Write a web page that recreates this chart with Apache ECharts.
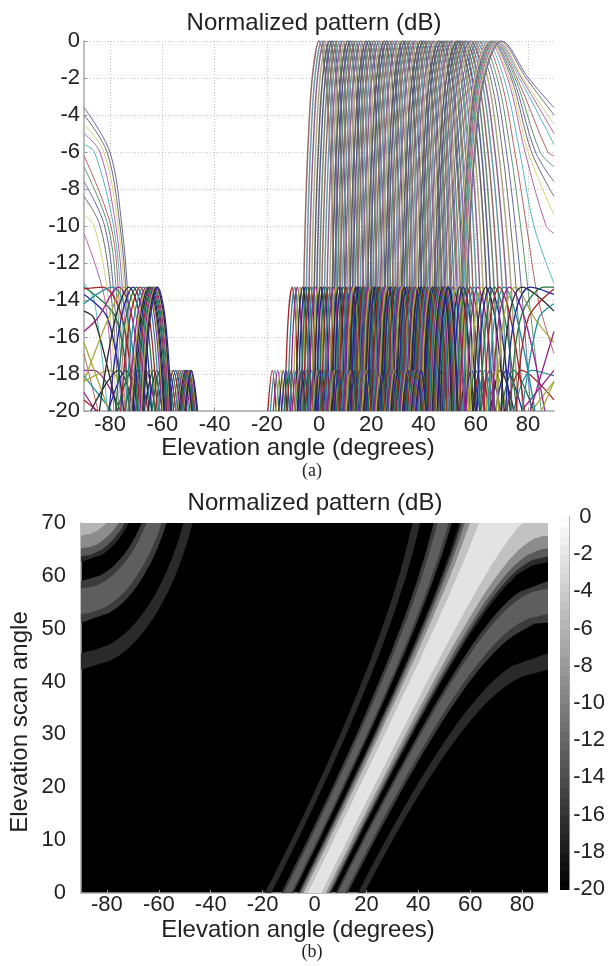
<!DOCTYPE html>
<html>
<head>
<meta charset="utf-8">
<style>
  html, body { margin: 0; padding: 0; background: #fff; }
  #chart { width: 608px; height: 966px; }
</style>
<script src="https://cdn.jsdelivr.net/npm/echarts@6/dist/echarts.min.js"></script>
</head>
<body>
<div id="chart"></div>
<script>
const _ = null

// Tick labels
const xTicks = [-80, -60, -40, -20, 0, 20, 40, 60, 80]

const scanAngles = [0, 1, 2, 3, 4, 5, 6, 7, 8, 9, 10, 11, 12, 13, 14, 15, 16, 17, 18, 19, 20, 21, 22, 23, 24, 25, 26, 27, 28, 29, 30, 31, 32, 33, 34, 35, 36, 37, 38, 39, 40, 41, 42, 43, 44, 45, 46, 47, 48, 49, 50, 51, 52, 53, 54, 55, 56, 57, 58, 59, 60, 61, 62, 63, 64, 65, 65.5, 66, 66.5, 67, 67.5, 68, 68.5, 69, 69.5, 70]

// dB level of each column of patternX: 2nd sidelobe, 1st sidelobe, main lobe, 1st sidelobe, 2nd sidelobe
const columnDb = [-20, -17.8, -20, -20, -15, -13.3, -15, -20, -20, -14, -10, -6, -2, 0, -2, -6, -10, -14, -20, -20, -15, -13.3, -15, -20, -20, -17.8, -20]

// Elevation angle where each scan curve passes the level of the column (null = past +90)
const patternX = [
  [-19.6, -17.9, -16.4, -13.1, -11.8, -10.3, -9, -8, -6.5, -5.9, -5.3, -4.3, -2.6, 0, 2.6, 4.3, 5.3, 5.9, 6.5, 8, 9, 10.3, 11.8, 13.1, 16.4, 17.9, 19.6],
  [-18.6, -16.9, -15.3, -12, -10.7, -9.3, -8, -7, -5.5, -4.9, -4.3, -3.3, -1.6, 1, 3.6, 5.3, 6.3, 6.9, 7.5, 9, 10, 11.3, 12.8, 14.1, 17.4, 18.9, 20.6],
  [-17.5, -15.8, -14.3, -11, -9.7, -8.3, -7, -6, -4.5, -3.9, -3.3, -2.3, -0.6, 2, 4.6, 6.3, 7.3, 8, 8.5, 10, 11, 12.3, 13.8, 15.1, 18.5, 20, 21.7],
  [-16.4, -14.7, -13.2, -10, -8.7, -7.3, -5.9, -5, -3.5, -2.9, -2.3, -1.3, 0.4, 3, 5.6, 7.3, 8.3, 9, 9.5, 11, 12, 13.3, 14.8, 16.1, 19.5, 21, 22.8],
  [-15.4, -13.7, -12.2, -9, -7.7, -6.3, -4.9, -4, -2.5, -1.9, -1.3, -0.3, 1.4, 4, 6.6, 8.3, 9.3, 10, 10.6, 12.1, 13, 14.4, 15.9, 17.2, 20.6, 22.2, 23.9],
  [-14.3, -12.7, -11.2, -8, -6.7, -5.3, -4, -3, -1.5, -0.9, -0.3, 0.7, 2.4, 5, 7.6, 9.3, 10.3, 11, 11.6, 13.1, 14, 15.4, 17, 18.2, 21.6, 23.2, 25],
  [-13.3, -11.7, -10.2, -7, -5.7, -4.3, -3, -2, -0.5, 0.1, 0.7, 1.7, 3.4, 6, 8.6, 10.4, 11.4, 12, 12.6, 14.1, 15.1, 16.5, 18, 19.3, 22.7, 24.3, 26.1],
  [-12.3, -10.7, -9.2, -6, -4.7, -3.3, -2, -1, 0.5, 1, 1.7, 2.7, 4.4, 7, 9.6, 11.4, 12.4, 13, 13.6, 15.1, 16.1, 17.5, 19, 20.3, 23.8, 25.4, 27.2],
  [-11.3, -9.7, -8.2, -5, -3.7, -2.3, -1, 0, 1.5, 2, 2.7, 3.7, 5.4, 8, 10.7, 12.4, 13.4, 14, 14.6, 16.2, 17.2, 18.5, 20, 21.4, 24.9, 26.5, 28.3],
  [-10.3, -8.7, -7.2, -4, -2.7, -1.3, 0, 1, 2.5, 3, 3.7, 4.7, 6.4, 9, 11.7, 13.4, 14.4, 15, 15.6, 17.2, 18.2, 19.5, 21.1, 22.4, 26, 27.6, 29.4],
  [-9.3, -7.7, -6.2, -3, -1.7, -0.3, 1, 2, 3.5, 4, 4.7, 5.6, 7.3, 10, 12.7, 14.4, 15.4, 16.1, 16.7, 18.2, 19.2, 20.6, 22.2, 23.5, 27.1, 28.8, 30.6],
  [-8.3, -6.7, -5.2, -2, -0.8, 0.7, 2, 3, 4.5, 5, 5.6, 6.6, 8.3, 11, 13.7, 15.4, 16.4, 17.1, 17.7, 19.2, 20.2, 21.6, 23.2, 24.6, 28.2, 29.9, 31.7],
  [-7.3, -5.7, -4.2, -1, 0.2, 1.7, 3, 3.9, 5.4, 6, 6.6, 7.6, 9.3, 12, 14.7, 16.4, 17.5, 18.1, 18.7, 20.3, 21.3, 22.7, 24.3, 25.7, 29.3, 31, 32.9],
  [-6.3, -4.7, -3.2, -0.1, 1.2, 2.6, 3.9, 4.9, 6.4, 7, 7.6, 8.6, 10.3, 13, 15.7, 17.4, 18.5, 19.1, 19.7, 21.3, 22.3, 23.8, 25.4, 26.8, 30.4, 32.1, 34],
  [-5.3, -3.8, -2.3, 0.9, 2.2, 3.6, 4.9, 5.9, 7.4, 8, 8.6, 9.6, 11.3, 14, 16.7, 18.5, 19.5, 20.2, 20.8, 22.4, 23.4, 24.9, 26.5, 27.9, 31.6, 33.3, 35.2],
  [-4.3, -2.8, -1.3, 1.8, 3.1, 4.6, 5.9, 6.8, 8.3, 8.9, 9.6, 10.6, 12.3, 15, 17.7, 19.5, 20.5, 21.2, 21.8, 23.4, 24.5, 26, 27.5, 29, 32.7, 34.5, 36.4],
  [-3.4, -1.8, -0.3, 2.8, 4.1, 5.6, 6.9, 7.8, 9.3, 9.9, 10.6, 11.6, 13.3, 16, 18.7, 20.5, 21.6, 22.3, 22.9, 24.5, 25.6, 27, 28.6, 30.1, 33.9, 35.7, 37.6],
  [-2.4, -0.8, 0.6, 3.8, 5, 6.5, 7.8, 8.8, 10.3, 10.9, 11.5, 12.5, 14.3, 17, 19.7, 21.5, 22.6, 23.3, 23.9, 25.5, 26.6, 28.1, 29.7, 31.2, 35, 36.9, 38.8],
  [-1.5, 0.1, 1.6, 4.8, 6, 7.5, 8.8, 9.8, 11.3, 11.9, 12.5, 13.5, 15.3, 18, 20.8, 22.6, 23.7, 24.4, 25, 26.6, 27.7, 29.2, 30.8, 32.3, 36.2, 38.1, 40.1],
  [-0.5, 1, 2.5, 5.7, 7, 8.4, 9.7, 10.7, 12.2, 12.8, 13.5, 14.5, 16.2, 19, 21.8, 23.6, 24.7, 25.4, 26, 27.7, 28.8, 30.3, 32, 33.4, 37.4, 39.3, 41.3],
  [0.4, 2, 3.5, 6.7, 7.9, 9.4, 10.7, 11.7, 13.2, 13.8, 14.5, 15.5, 17.2, 20, 22.8, 24.7, 25.7, 26.5, 27.1, 28.8, 29.9, 31.4, 33.1, 34.6, 38.6, 40.5, 42.6],
  [1.3, 2.9, 4.4, 7.6, 8.8, 10.3, 11.6, 12.6, 14.1, 14.7, 15.4, 16.4, 18.2, 21, 23.8, 25.7, 26.7, 27.5, 28.1, 29.8, 30.9, 32.5, 34.2, 35.7, 39.8, 41.7, 43.9],
  [2.3, 3.9, 5.3, 8.5, 9.8, 11.3, 12.6, 13.6, 15.1, 15.7, 16.4, 17.4, 19.2, 22, 24.9, 26.7, 27.8, 28.6, 29.2, 30.9, 32, 33.6, 35.3, 36.9, 41, 43, 45.2],
  [3.2, 4.8, 6.2, 9.4, 10.7, 12.2, 13.5, 14.5, 16.1, 16.6, 17.3, 18.4, 20.2, 23, 25.9, 27.7, 28.8, 29.6, 30.2, 32, 33.1, 34.7, 36.4, 38.1, 42.2, 44.3, 46.5],
  [4.1, 5.7, 7.2, 10.4, 11.7, 13.2, 14.5, 15.5, 17.1, 17.6, 18.3, 19.4, 21.2, 24, 26.9, 28.8, 29.9, 30.7, 31.3, 33.1, 34.2, 35.8, 37.6, 39.3, 43.5, 45.6, 47.9],
  [5, 6.6, 8.1, 11.3, 12.6, 14.1, 15.4, 16.4, 18, 18.6, 19.2, 20.3, 22.1, 25, 27.9, 29.8, 31, 31.7, 32.4, 34.2, 35.3, 36.9, 38.8, 40.4, 44.8, 46.9, 49.3],
  [5.9, 7.5, 9, 12.3, 13.6, 15.1, 16.4, 17.4, 19, 19.6, 20.2, 21.3, 23.1, 26, 29, 30.9, 32.1, 32.8, 33.5, 35.3, 36.5, 38.1, 40, 41.6, 46.1, 48.2, 50.7],
  [6.8, 8.4, 9.9, 13.2, 14.5, 16, 17.3, 18.3, 19.9, 20.5, 21.2, 22.2, 24.1, 27, 30, 31.9, 33.1, 33.9, 34.6, 36.4, 37.6, 39.2, 41.1, 42.8, 47.4, 49.6, 52.1],
  [7.7, 9.3, 10.8, 14.1, 15.4, 16.9, 18.3, 19.3, 20.9, 21.5, 22.2, 23.2, 25.1, 28, 31, 33, 34.2, 35, 35.7, 37.5, 38.7, 40.4, 42.3, 44.1, 48.7, 51, 53.6],
  [8.6, 10.2, 11.7, 15, 16.3, 17.8, 19.2, 20.2, 21.8, 22.4, 23.1, 24.1, 26, 29, 32, 34, 35.2, 36, 36.7, 38.6, 39.8, 41.5, 43.5, 45.3, 50, 52.4, 55.1],
  [9.5, 11.1, 12.6, 15.9, 17.2, 18.7, 20.1, 21.1, 22.7, 23.4, 24.1, 25.1, 27, 30, 33.1, 35.1, 36.3, 37.1, 37.8, 39.7, 41, 42.7, 44.7, 46.5, 51.4, 53.8, 56.6],
  [10.3, 12, 13.5, 16.8, 18.1, 19.6, 21, 22, 23.6, 24.3, 25, 26, 28, 31, 34.1, 36.1, 37.4, 38.2, 38.9, 40.8, 42.1, 43.9, 45.9, 47.8, 52.8, 55.3, 58.2],
  [11.2, 12.9, 14.4, 17.7, 19, 20.6, 22, 23, 24.6, 25.2, 26, 27, 29, 32, 35.2, 37.2, 38.5, 39.3, 40, 42, 43.3, 45.1, 47.2, 49.1, 54.2, 56.9, 59.9],
  [12.1, 13.7, 15.2, 18.6, 19.9, 21.5, 22.9, 23.9, 25.5, 26.1, 26.9, 27.9, 29.9, 33, 36.2, 38.3, 39.6, 40.4, 41.1, 43.1, 44.5, 46.3, 48.4, 50.4, 55.7, 58.4, 61.6],
  [13, 14.6, 16.1, 19.5, 20.8, 22.4, 23.8, 24.8, 26.5, 27.1, 27.8, 28.9, 30.9, 34, 37.2, 39.4, 40.7, 41.5, 42.3, 44.3, 45.7, 47.6, 49.7, 51.7, 57.2, 60, 63.4],
  [13.8, 15.4, 16.9, 20.3, 21.7, 23.2, 24.7, 25.7, 27.4, 28, 28.7, 29.8, 31.8, 35, 38.2, 40.4, 41.7, 42.6, 43.4, 45.4, 46.8, 48.8, 51, 53.1, 58.8, 61.7, 65.3],
  [14.6, 16.3, 17.8, 21.2, 22.6, 24.1, 25.6, 26.6, 28.3, 29, 29.7, 30.8, 32.8, 36, 39.3, 41.5, 42.8, 43.7, 44.5, 46.6, 48, 50, 52.3, 54.5, 60.4, 63.5, 67.3],
  [15.4, 17.1, 18.6, 22, 23.4, 25, 26.5, 27.5, 29.2, 29.9, 30.6, 31.7, 33.7, 37, 40.3, 42.6, 43.9, 44.8, 45.6, 47.8, 49.2, 51.3, 53.6, 55.9, 62, 65.4, 69.5],
  [16.3, 18, 19.5, 22.9, 24.3, 25.9, 27.4, 28.4, 30.2, 30.8, 31.6, 32.7, 34.7, 38, 41.4, 43.7, 45.1, 46, 46.8, 49, 50.5, 52.6, 55, 57.3, 63.8, 67.4, 71.9],
  [17.1, 18.8, 20.3, 23.7, 25.1, 26.8, 28.2, 29.3, 31.1, 31.7, 32.5, 33.6, 35.7, 39, 42.4, 44.8, 46.2, 47.1, 47.9, 50.2, 51.7, 53.9, 56.4, 58.8, 65.6, 69.5, 74.7],
  [17.9, 19.6, 21.2, 24.6, 26, 27.7, 29.1, 30.2, 32, 32.6, 33.4, 34.6, 36.7, 40, 43.5, 45.9, 47.3, 48.3, 49.1, 51.5, 53, 55.2, 57.8, 60.3, 67.6, 71.8, 77.9],
  [18.7, 20.4, 22, 25.4, 26.8, 28.5, 30, 31.1, 32.9, 33.5, 34.3, 35.5, 37.6, 41, 44.5, 47, 48.4, 49.4, 50.3, 52.7, 54.3, 56.6, 59.3, 61.9, 69.7, 74.5, 82.3],
  [19.5, 21.2, 22.8, 26.3, 27.7, 29.4, 30.9, 32, 33.8, 34.4, 35.2, 36.4, 38.6, 42, 45.6, 48.1, 49.6, 50.6, 51.5, 53.9, 55.6, 58, 60.8, 63.5, 71.9, 77.6, _],
  [20.3, 22, 23.6, 27.1, 28.5, 30.2, 31.8, 32.8, 34.6, 35.3, 36.1, 37.3, 39.5, 43, 46.7, 49.2, 50.7, 51.8, 52.7, 55.2, 56.9, 59.4, 62.4, 65.2, 74.5, 81.6, _],
  [21.1, 22.8, 24.4, 27.9, 29.4, 31.1, 32.6, 33.7, 35.5, 36.2, 37, 38.3, 40.5, 44, 47.8, 50.3, 51.9, 53, 53.9, 56.5, 58.3, 60.8, 64, 67, 77.5, _, _],
  [21.8, 23.5, 25.2, 28.7, 30.2, 31.9, 33.4, 34.6, 36.4, 37.1, 37.9, 39.2, 41.4, 45, 48.8, 51.4, 53, 54.2, 55.1, 57.8, 59.7, 62.3, 65.6, 68.9, 81.4, _, _],
  [22.6, 24.3, 26, 29.6, 31, 32.7, 34.3, 35.5, 37.3, 38, 38.8, 40.1, 42.3, 46, 49.9, 52.6, 54.2, 55.4, 56.4, 59.2, 61.1, 63.9, 67.4, 71, _, _, _],
  [23.3, 25, 26.7, 30.3, 31.8, 33.5, 35.1, 36.3, 38.1, 38.9, 39.7, 41, 43.2, 47, 51, 53.7, 55.4, 56.6, 57.6, 60.5, 62.5, 65.5, 69.2, 73.2, _, _, _],
  [24.1, 25.8, 27.5, 31.1, 32.6, 34.4, 36, 37.1, 39, 39.8, 40.6, 41.9, 44.2, 48, 52.1, 54.9, 56.7, 57.8, 58.9, 61.9, 64.1, 67.2, 71.2, 75.7, _, _, _],
  [24.8, 26.5, 28.2, 31.9, 33.4, 35.2, 36.8, 37.9, 39.8, 40.6, 41.5, 42.8, 45.1, 49, 53.2, 56.1, 57.9, 59.1, 60.2, 63.3, 65.6, 69, 73.4, 78.7, _, _, _],
  [25.5, 27.3, 29, 32.7, 34.2, 36, 37.6, 38.8, 40.7, 41.5, 42.4, 43.7, 46.1, 50, 54.3, 57.3, 59.1, 60.4, 61.6, 64.9, 67.2, 70.9, 75.8, 82.7, _, _, _],
  [26.2, 28, 29.7, 33.4, 35, 36.7, 38.4, 39.6, 41.6, 42.3, 43.2, 44.6, 47, 51, 55.4, 58.5, 60.4, 61.7, 63, 66.4, 68.9, 72.9, 78.8, 86.5, _, _, _],
  [26.9, 28.7, 30.4, 34.2, 35.8, 37.5, 39.2, 40.4, 42.4, 43.2, 44.1, 45.5, 47.9, 52, 56.5, 59.7, 61.7, 63, 64.4, 68, 70.7, 75.2, 82.6, _, _, _, _],
  [27.6, 29.4, 31.1, 35, 36.5, 38.3, 40, 41.2, 43.2, 44, 45, 46.3, 48.8, 53, 57.6, 60.9, 63, 64.4, 65.8, 69.7, 72.7, 77.8, _, _, _, _, _],
  [28.3, 30.1, 31.8, 35.7, 37.3, 39.1, 40.8, 42, 44.1, 44.9, 45.8, 47.2, 49.8, 54, 58.7, 62.2, 64.3, 65.8, 67.3, 71.5, 74.8, 80.9, _, _, _, _, _],
  [29, 30.8, 32.5, 36.4, 38, 39.8, 41.5, 42.8, 44.9, 45.7, 46.6, 48, 50.7, 55, 59.9, 63.4, 65.6, 67.3, 68.9, 73.4, 77.2, 86.3, _, _, _, _, _],
  [29.6, 31.4, 33.2, 37.1, 38.7, 40.6, 42.3, 43.6, 45.7, 46.5, 47.5, 48.9, 51.6, 56, 61, 64.7, 67.1, 68.8, 70.5, 75.5, 80.1, _, _, _, _, _, _],
  [30.3, 32, 33.8, 37.8, 39.4, 41.3, 43, 44.3, 46.5, 47.3, 48.3, 49.8, 52.5, 57, 62.2, 66, 68.6, 70.4, 72.2, 77.9, 84.1, _, _, _, _, _, _],
  [30.9, 32.7, 34.5, 38.5, 40.1, 42, 43.8, 45.1, 47.3, 48.1, 49.1, 50.6, 53.3, 58, 63.3, 67.4, 70.1, 72.1, 73.9, 80.9, _, _, _, _, _, _, _],
  [31.5, 33.4, 35.2, 39.2, 40.8, 42.7, 44.5, 45.9, 48, 48.9, 49.9, 51.5, 54.2, 59, 64.6, 68.8, 71.7, 73.9, 76.1, 85.2, _, _, _, _, _, _, _],
  [32.1, 34, 35.8, 39.8, 41.5, 43.4, 45.2, 46.6, 48.8, 49.7, 50.7, 52.3, 55.1, 60, 65.7, 70.3, 73.4, 75.8, 78, _, _, _, _, _, _, _, _],
  [32.7, 34.6, 36.4, 40.4, 42.1, 44.1, 45.9, 47.3, 49.6, 50.4, 51.5, 53, 56, 61, 67, 71.8, 75.2, 77.9, 81.1, _, _, _, _, _, _, _, _],
  [33.2, 35.1, 37, 41, 42.8, 44.8, 46.6, 48, 50.3, 51.2, 52.3, 53.9, 56.8, 62, 68.2, 73.4, 77.2, 80.5, 85.1, _, _, _, _, _, _, _, _],
  [33.8, 35.7, 37.5, 41.7, 43.4, 45.4, 47.3, 48.7, 51, 51.9, 53, 54.7, 57.7, 63, 69.5, 75, 79.5, 84, _, _, _, _, _, _, _, _, _],
  [34.3, 36.3, 38.1, 42.3, 44, 46.1, 48, 49.4, 51.8, 52.7, 53.8, 55.4, 58.5, 64, 70.8, 76.9, 82.3, _, _, _, _, _, _, _, _, _, _],
  [34.8, 36.8, 38.7, 42.9, 44.6, 46.7, 48.6, 50.1, 52.5, 53.4, 54.5, 56.2, 59.4, 65, 72.2, 78.9, 87, _, _, _, _, _, _, _, _, _, _],
  [35.1, 37.1, 38.9, 43.2, 44.9, 47, 48.9, 50.4, 52.8, 53.8, 54.9, 56.6, 59.8, 65.5, 72.9, 80.1, _, _, _, _, _, _, _, _, _, _, _],
  [35.3, 37.3, 39.2, 43.4, 45.2, 47.3, 49.2, 50.7, 53.1, 54.1, 55.2, 57, 60.2, 66, 73.6, 81.4, _, _, _, _, _, _, _, _, _, _, _],
  [35.6, 37.6, 39.5, 43.7, 45.5, 47.6, 49.6, 51, 53.5, 54.5, 55.6, 57.3, 60.6, 66.5, 74.3, 82.9, _, _, _, _, _, _, _, _, _, _, _],
  [35.8, 37.8, 39.7, 44, 45.8, 47.9, 49.9, 51.4, 53.8, 54.8, 55.9, 57.7, 61, 67, 75.1, 84.7, _, _, _, _, _, _, _, _, _, _, _],
  [36.1, 38.1, 40, 44.3, 46.1, 48.2, 50.2, 51.7, 54.1, 55.1, 56.3, 58.1, 61.4, 67.5, 75.8, 87.6, _, _, _, _, _, _, _, _, _, _, _],
  [36.3, 38.3, 40.2, 44.5, 46.3, 48.5, 50.5, 52, 54.5, 55.4, 56.6, 58.4, 61.8, 68, 76.7, _, _, _, _, _, _, _, _, _, _, _, _],
  [36.5, 38.5, 40.4, 44.8, 46.6, 48.7, 50.8, 52.3, 54.8, 55.8, 56.9, 58.8, 62.2, 68.5, 77.5, _, _, _, _, _, _, _, _, _, _, _, _],
  [36.8, 38.8, 40.7, 45, 46.9, 49, 51, 52.6, 55.1, 56.1, 57.3, 59.2, 62.6, 69, 78, _, _, _, _, _, _, _, _, _, _, _, _],
  [37, 39, 40.9, 45.3, 47.1, 49.3, 51.3, 52.9, 55.4, 56.4, 57.6, 59.5, 63, 69.5, 79.3, _, _, _, _, _, _, _, _, _, _, _, _],
  [37.2, 39.2, 41.1, 45.5, 47.4, 49.6, 51.6, 53.2, 55.7, 56.7, 57.9, 59.8, 63.4, 70, 80.2, _, _, _, _, _, _, _, _, _, _, _, _]
]

// Same levels as the right half of columnDb, for the lobes that come back in from -90
const gratingDb = [-2, -6, -10, -14, -20, -20, -15, -13.3, -15, -20, -20, -17.8, -20]
const gratingFirstScan = 42
const gratingX = [
  [_, _, _, _, _, _, _, _, _, _, _, _, -84.8],
  [_, _, _, _, _, _, _, _, _, _, _, _, -79.4],
  [_, _, _, _, _, _, _, _, _, _, _, -86.3, -76],
  [_, _, _, _, _, _, _, _, _, _, _, -80.2, -73.3],
  [_, _, _, _, _, _, _, _, _, _, -87.4, -76.7, -71],
  [_, _, _, _, _, _, _, _, _, _, -80.7, -74, -69],
  [_, _, _, _, _, _, _, _, _, _, -77.2, -71.7, -67.2],
  [_, _, _, _, _, _, _, _, _, _, -74.5, -69.7, -65.5],
  [_, _, _, _, _, _, _, _, _, _, -72.2, -67.9, -64],
  [_, _, _, _, _, _, _, _, _, -85.5, -70.3, -66.3, -62.6],
  [_, _, _, _, _, _, _, _, _, -80.4, -68.5, -64.8, -61.3],
  [_, _, _, _, _, _, _, _, -86.1, -77.3, -66.9, -63.4, -60],
  [_, _, _, _, _, _, _, _, -80.9, -74.8, -65.4, -62.1, -58.9],
  [_, _, _, _, _, _, _, _, -77.7, -72.7, -64, -60.9, -57.8],
  [_, _, _, _, _, _, _, -82.9, -75.3, -70.9, -62.8, -59.7, -56.7],
  [_, _, _, _, _, _, _, -79.3, -73.2, -69.3, -61.6, -58.6, -55.7],
  [_, _, _, _, _, _, -84.9, -76.7, -71.5, -67.8, -60.5, -57.6, -54.8],
  [_, _, _, _, _, _, -80.7, -74.6, -69.9, -66.5, -59.5, -56.7, -53.9],
  [_, _, _, _, _, -84.1, -78, -72.8, -68.5, -65.2, -58.5, -55.8, -53],
  [_, _, _, _, _, -80.4, -75.8, -71.2, -67.2, -64.1, -57.5, -54.9, -52.2],
  [_, _, _, _, _, -77.9, -74, -69.8, -66, -63, -56.7, -54.1, -51.5],
  [_, _, _, _, -84.6, -75.9, -72.4, -68.5, -64.9, -62, -55.8, -53.3, -50.7],
  [_, _, _, -86.1, -81, -74.1, -70.9, -67.3, -63.8, -61.1, -55, -52.5, -50],
  [_, _, _, -82, -78.6, -72.6, -69.7, -66.2, -62.9, -60.2, -54.3, -51.9, -49.4],
  [_, _, -86.1, -80.6, -77.6, -71.9, -69, -65.7, -62.4, -59.8, -53.9, -51.5, -49],
  [_, _, -83.8, -79.4, -76.7, -71.3, -68.5, -65.2, -62, -59.4, -53.6, -51.2, -48.7],
  [_, _, -82.1, -78.4, -75.8, -70.7, -67.9, -64.7, -61.6, -59, -53.2, -50.8, -48.4],
  [_, _, -80.8, -77.4, -75, -70.1, -67.4, -64.3, -61.1, -58.6, -52.9, -50.6, -48.1],
  [_, _, -79.7, -76.6, -74.3, -69.5, -67, -63.8, -60.7, -58.2, -52.6, -50.2, -47.8],
  [_, -86, -78.7, -75.8, -73.6, -69, -66.5, -63.4, -60.4, -57.9, -52.3, -49.9, -47.5],
  [_, -83.9, -77.8, -75, -73, -68.5, -66, -63, -60, -57.5, -52, -49.7, -47.3],
  [_, -82.4, -76.9, -74.3, -72.4, -68, -65.6, -62.6, -59.6, -57.2, -51.7, -49.4, -47],
  [_, -81.2, -76.2, -73.7, -71.8, -67.5, -65.1, -62.2, -59.3, -56.9, -51.4, -49.1, -46.7],
  [_, -80.1, -75.5, -73.1, -71.2, -67.1, -64.7, -61.8, -58.9, -56.5, -51.1, -48.8, -46.5]
]

// Level of each scan curve where it leaves the plot at +90 and -90 (null = under -20)
const edgeDb = [_, _, _, _, _, _, _, _, _, _, _, _, _, _, _, _, _, _, _, _, _, _, _, _, _, _, _, _, _, _, _, _, _, _, _, _, _, _, _, _, _, _, -19.4, -18.1, -17.8, -18.4, _, _, _, _, _, -19, -16.3, -14.6, -13.7, -13.3, -13.4, -14.2, -15.7, -18.4, _, _, _, -16.9, -13.1, -10.4, -9.4, -8.4, -7.6, -6.8, -6.2, -5.6, -5, -4.5, -4, -3.6]

// Scan angle at which each contour of gratingDb meets the plot edge
const edgeScan = [_, 67.6, 65.2, 63.7, 62.4, 59.4, 57.6, 55.2, 52.8, 50.7, 45.9, 43.8, 41.7]

// Colorbar steps
const colorbarDb = [-20, -19.5, -19, -18.5, -18, -17.5, -17, -16.5, -16, -15.5, -15, -14.5, -14, -13.5, -13, -12.5, -12, -11.5, -11, -10.5, -10, -9.5, -9, -8.5, -8, -7.5, -7, -6.5, -6, -5.5, -5, -4.5, -4, -3.5, -3, -2.5, -2, -1.5, -1, -0.5]

// MATLAB line cycle as it looks once thinned out, counted down from the top curve
const lineColors = ['#66669f', '#6e6e6e', '#d6d27c', '#b565a5', '#58b6c0', '#b56565', '#5f9670']
const massColors = ['#5a5a8c', '#5e5e5e', '#aaa880', '#8f6590', '#6a9aa4', '#946a6a', '#6a8a70']
const lobeColors = ['#24249a', '#2c2c2c', '#a8a83c', '#96248e', '#248e9c', '#a02424', '#247440']

const font = 'Liberation Sans'

// --- panel (a): one line per scan angle, main lobes and sidelobes apart
const lobeColumns = [[0, 2], [3, 7], [19, 23], [24, 26]]
const mainColumns = [[8, 18]]
const gratingLobes = [[5, 9], [10, 12]]
const gratingMain = [[0, 4]]
const gratingStart = scanAngles.indexOf(gratingFirstScan)

const collect = (row, columns, grating) => {
  const points = []
  columns.forEach(([from, to]) => {
    const lobe = []
    for (let c = from; c <= to; c++) {
      if (patternX[row][c] !== null) lobe.push([patternX[row][c], columnDb[c]])
    }
    if (lobe.length) {
      if (patternX[row][to] === null && edgeDb[row] !== null) lobe.push([90, edgeDb[row]])
      points.push(...lobe, [null, null])
    }
  })
  const g = row - gratingStart
  if (g >= 0) {
    grating.forEach(([from, to]) => {
      const lobe = []
      for (let c = from; c <= to; c++) {
        if (gratingX[g][c] !== null) lobe.push([gratingX[g][c], gratingDb[c]])
      }
      if (lobe.length) {
        if (gratingX[g][from] === null && edgeDb[row] !== null) lobe.unshift([-90, edgeDb[row]])
        points.push(...lobe, [null, null])
      }
    })
  }
  return points
}

const lineOf = (data, color, width) => ({
  type: 'line',
  xAxisIndex: 0,
  yAxisIndex: 0,
  data,
  smooth: 0.35,
  showSymbol: false,
  silent: true,
  lineStyle: { color, width }
})

const lineSeries = []
scanAngles.forEach((scan, row) => {
  const k = (scanAngles.length - 1 - row) % lineColors.length
  lineSeries.push(lineOf(collect(row, mainColumns, gratingMain), scan >= 60 ? lineColors[k] : massColors[k], scan >= 60 ? 1 : 1.5))
})
scanAngles.forEach((scan, row) => {
  const k = (scanAngles.length - 1 - row) % lineColors.length
  lineSeries.push(lineOf(collect(row, lobeColumns, gratingLobes), lobeColors[k], 1.3))
})

// --- panel (b): filled bands built from the same contours
// t pulls a contour from column a toward column b, the black floor of the fill sits near -19 dB
const column = (a, b = a, t = 0) => {
  const pts = []
  patternX.forEach((r, row) => {
    if (r[a] !== null && r[b] !== null) pts.push([r[a] + (r[b] - r[a]) * t, scanAngles[row]])
  })
  if (a > 13 && edgeScan[a - 14] !== null && edgeScan[b - 14] !== null) {
    pts.push([90, edgeScan[a - 14] + (edgeScan[b - 14] - edgeScan[a - 14]) * t])
  }
  return pts
}

const gratingColumn = (a, b = a, t = 0) => {
  const pts = []
  if (edgeScan[a] !== null && edgeScan[b] !== null) {
    pts.push([-90, edgeScan[a] + (edgeScan[b] - edgeScan[a]) * t])
  }
  gratingX.forEach((r, g) => {
    if (r[a] !== null && r[b] !== null) pts.push([r[a] + (r[b] - r[a]) * t, scanAngles[gratingStart + g]])
  })
  return pts
}

const closeTop = (left, right) => {
  const corner = right[right.length - 1][0] === 90 ? [[90, 70]] : []
  return [...left, ...corner, ...[...right].reverse()]
}

const bands = []
const addBand = (pts, color) => bands.push({ pts, color })

const floorColor = '#2a2a2a'
const sideEdgeColor = '#3c3c3c'
const sideCoreColor = '#5e5e5e'

// grating lobe in the top left corner
addBand([...gratingColumn(4, 3, 0.17), [-90, 70]], floorColor)
addBand([...gratingColumn(3), [-90, 70]], '#5a5a5a')
addBand([...gratingColumn(2), [-90, 70]], '#8c8c8c')
addBand([...gratingColumn(1), [-90, 70]], '#b4b4b4')
addBand([...gratingColumn(5, 6, 0.2), ...gratingColumn(9, 8, 0.2).reverse()], sideEdgeColor)
addBand([...gratingColumn(6), ...gratingColumn(8).reverse()], sideCoreColor)
addBand([...gratingColumn(10, 11, 0.25), ...gratingColumn(12, 11, 0.25).reverse()], floorColor)

// second and first sidelobes on both sides
addBand([...column(0, 1, 0.25), ...column(2, 1, 0.25).reverse()], floorColor)
addBand([...column(3, 4, 0.2), ...column(7, 6, 0.2).reverse()], sideEdgeColor)
addBand([...column(4), ...column(6).reverse()], sideCoreColor)
addBand([...column(19, 20, 0.2), ...column(23, 22, 0.2).reverse()], sideEdgeColor)
addBand([...column(20), ...column(22).reverse()], sideCoreColor)
addBand([...column(24, 25, 0.25), ...column(26, 25, 0.25).reverse()], floorColor)

// main lobe, outer contour first
addBand(closeTop(column(8, 9, 0.17), column(18, 17, 0.17)), floorColor)
addBand(closeTop(column(9), column(17)), '#5a5a5a')
addBand(closeTop(column(10), column(16)), '#8c8c8c')
addBand(closeTop(column(11), column(15)), '#c2c2c2')
addBand(closeTop(column(12), column(14)), '#e3e3e3')

const bandSeries = {
  type: 'custom',
  xAxisIndex: 1,
  yAxisIndex: 1,
  clip: true,
  silent: true,
  data: bands.map((b, i) => [i, i]),
  renderItem: (params, api) => {
    const band = bands[params.dataIndex]
    return {
      type: 'polygon',
      shape: { points: band.pts.map((p) => api.coord(p)) },
      style: { fill: band.color }
    }
  }
}

const colorbarSeries = {
  type: 'custom',
  xAxisIndex: 2,
  yAxisIndex: 2,
  silent: true,
  data: colorbarDb.map((db) => [0, db]),
  renderItem: (params, api) => {
    const db = api.value(1)
    const low = api.coord([0, db])
    const high = api.coord([1, db + 0.5])
    const g = Math.round(255 * (db + 20.25) / 20)
    return {
      type: 'rect',
      shape: { x: low[0], y: high[1], width: high[0] - low[0], height: low[1] - high[1] + 1 },
      style: { fill: `rgb(${g},${g},${g})` }
    }
  }
}

const text = (str, x, y, size, extra) => ({
  type: 'text',
  x,
  y,
  silent: true,
  style: {
    text: str,
    fontFamily: font,
    fontSize: size,
    fill: '#222',
    align: 'center',
    verticalAlign: 'middle',
    ...extra
  }
})

const tickLabel = { color: '#222', fontFamily: font, fontSize: 22 }
const axisEdge = { onZero: false, lineStyle: { color: '#a9a9a9', width: 1.5 } }
const dotted = { show: true, lineStyle: { color: '#c4c4c4', type: [1, 2], width: 1 } }

const option = {
  animation: false,
  backgroundColor: '#fff',
  grid: [
    { left: 84, right: 54, top: 41, bottom: 555 },
    { left: 81, right: 60, top: 523, bottom: 73, show: true, backgroundColor: '#000', borderWidth: 0 },
    { left: 560, right: 35, top: 517, bottom: 77 }
  ],
  xAxis: [
    {
      gridIndex: 0, type: 'value', min: -90, max: 90,
      axisLine: axisEdge,
      axisTick: { customValues: xTicks, inside: true, length: 3, lineStyle: { color: '#999' } },
      axisLabel: { ...tickLabel, customValues: xTicks, margin: 3 },
      splitLine: dotted
    },
    {
      gridIndex: 1, type: 'value', min: -90, max: 90,
      axisLine: axisEdge,
      axisTick: { customValues: xTicks, inside: true, length: 3, lineStyle: { color: '#999' } },
      axisLabel: { ...tickLabel, customValues: xTicks, margin: 1 },
      splitLine: { show: false }
    },
    { gridIndex: 2, type: 'value', min: 0, max: 1, show: false }
  ],
  yAxis: [
    {
      gridIndex: 0, type: 'value', min: -20, max: 0, interval: 2,
      axisLine: { show: true, ...axisEdge },
      axisTick: { inside: true, length: 3, lineStyle: { color: '#999' } },
      axisLabel: { ...tickLabel, margin: 4 },
      splitLine: dotted
    },
    {
      gridIndex: 1, type: 'value', min: 0, max: 70, interval: 10,
      axisLine: { show: true, ...axisEdge },
      axisTick: { show: false },
      axisLabel: { ...tickLabel, margin: 15 },
      splitLine: { show: false }
    },
    {
      gridIndex: 2, type: 'value', min: -20, max: 0, interval: 2, position: 'right',
      axisLine: { show: true, onZero: false, lineStyle: { color: '#a9a9a9' } },
      axisTick: { show: true, inside: true, length: 3, lineStyle: { color: '#555' } },
      axisLabel: { ...tickLabel, margin: 4, formatter: (v) => (v === 0 ? ' 0' : String(v)) },
      splitLine: { show: false }
    }
  ],
  series: [...lineSeries, bandSeries, colorbarSeries],
  graphic: [
    text('Normalized pattern (dB)', 314, 23, 24),
    text('Elevation angle (degrees)', 298, 448, 24),
    text('(a)', 312, 471, 18, { fontFamily: 'Liberation Serif' }),
    text('Normalized pattern (dB)', 315, 503, 24),
    text('Elevation angle (degrees)', 298, 930, 24),
    text('(b)', 312, 952, 18, { fontFamily: 'Liberation Serif' }),
    { ...text('Elevation scan angle', 20, 722, 24), rotation: Math.PI / 2 }
  ]
}

const chart = echarts.init(document.getElementById('chart'), null, { renderer: 'canvas' })
chart.setOption(option)
</script>
</body>
</html>
